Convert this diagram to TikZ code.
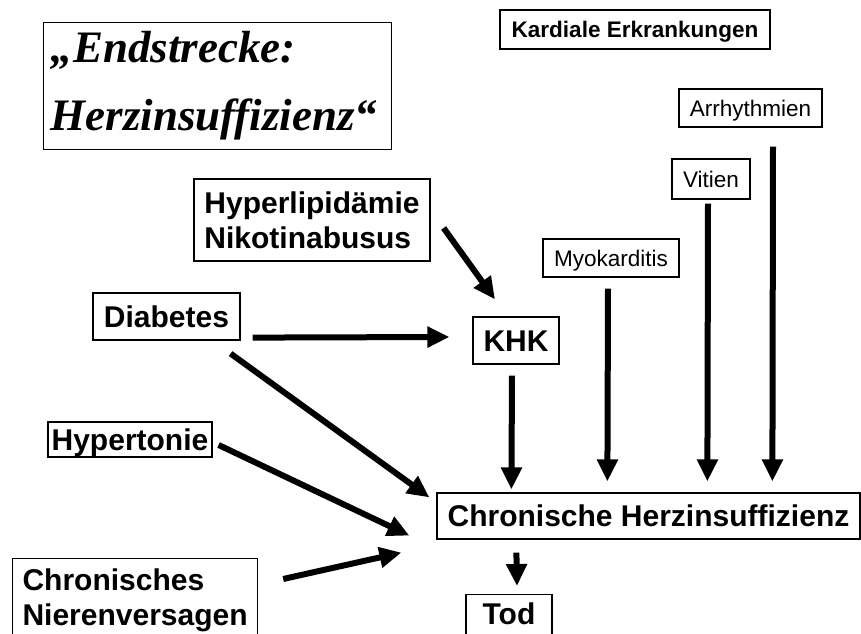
\documentclass[tikz,border=0pt]{standalone}
\usepackage{fontspec}
\setmainfont{Liberation Serif}
\setsansfont{Liberation Sans}
\usetikzlibrary{arrows.meta,calc}

\tikzset{
  rahmen/.style={draw, line width=0.9pt, inner sep=0pt},
  gross/.style={rahmen, font=\sffamily\bfseries\fontsize{22.5}{26}\selectfont},
  klein/.style={rahmen, font=\sffamily\fontsize{16.9}{20}\selectfont},
  einzeilig/.style={text height=16.2pt, text depth=0pt},
  pfeil/.style={line width=4.5pt, -{Triangle[length=16.5pt,width=15pt]}},
}

\begin{document}
\begin{tikzpicture}[x=0.75pt,y=-0.75pt]
    \clip (0,0) rectangle (861,634);
    % Titel
    \node[rahmen, anchor=north west, inner xsep=5.25pt, inner ysep=6.75pt,
          text width=250.5pt, align=left,
          font=\bfseries\itshape\fontsize{33.75}{51}\selectfont]
          (titel) at (43,22) {„Endstrecke:\\Herzinsuffizienz“};
    % kardiale Ursachen
    \node[klein, font=\sffamily\bfseries\fontsize{16.9}{20}\selectfont,
          text height=12.2pt, text depth=0pt,
          minimum width=202.5pt, minimum height=29.25pt] (kard) at (635,29.5) {Kardiale Erkrankungen};
    \node[klein, text height=12.2pt, text depth=0pt,
          minimum width=107.25pt, minimum height=28.5pt] (arr) at (750.5,108) {Arrhythmien};
    \node[klein, text height=12.2pt, text depth=0pt,
          minimum width=58.5pt, minimum height=30pt] (vit) at (711,179) {Vitien};
    \node[klein, text height=12.2pt, text depth=0pt,
          minimum width=102pt, minimum height=28.5pt] (myo) at (611,258) {Myokarditis};
    % Risikofaktoren
    \node[gross, align=left, minimum width=177pt, minimum height=61.5pt]
          (hyp) at (312,220) {Hyperlipidämie\\Nikotinabusus};
    \node[gross, einzeilig, minimum width=110.25pt, minimum height=35.25pt] (dia) at (166.5,316.5) {Diabetes};
    \node[gross, einzeilig, minimum width=64.5pt, minimum height=35.25pt] (khk) at (516,340.5) {KHK};
    \node[gross, einzeilig, minimum width=123pt, minimum height=26.25pt] (hyt) at (130,439.5) {Hypertonie};
    \node[gross, anchor=north west, align=left, inner ysep=7.5pt, minimum width=183.75pt]
          (niere) at (12,558) {Chronisches\\Nierenversagen};
    % Endstrecke
    \node[gross, einzeilig, minimum width=317.25pt, minimum height=34.5pt] (chi) at (648.5,516) {Chronische Herzinsuffizienz};
    \node[gross, text height=16.2pt, text depth=16.2pt, anchor=north,
          minimum width=64.5pt, minimum height=45pt] (tod) at (509,594) {Tod};
    % Pfeile
    \draw[pfeil] ($(hyp.east)+(13,8)$) -- ($(khk.north)+(-21,-17)$);
    \draw[pfeil] ($(dia.south east)+(12,-3)$) -- ($(khk.west)+(-23,-3.5)$);
    \draw[pfeil] ($(dia.south east)+(-10,13)$) -- ($(chi.north west)+(-7,5)$);
    \draw[pfeil] ($(hyt.east)+(6,5.5)$) -- ($(chi.south west)+(-27,-4)$);
    \draw[pfeil] ($(niere.north east)+(25,21)$) -- ($(chi.south west)+(-35,13)$);
    \draw[pfeil] ($(khk.south)+(-4,11)$) -- ($(chi.north west)+(75,-3)$);
    \draw[pfeil] ($(myo.south)+(-3,11)$) -- ($(chi.north west)+(171,-11)$);
    \draw[pfeil] ($(vit.south)+(-3,4)$) -- ($(chi.north west)+(271,-11)$);
    \draw[pfeil] ($(arr.south)+(22.5,19)$) -- ($(chi.north west)+(336,-11)$);
    \draw[pfeil] ($(chi.south west)+(80,13)$) -- ($(tod.north)+(8,-8)$);
\end{tikzpicture}
\end{document}
